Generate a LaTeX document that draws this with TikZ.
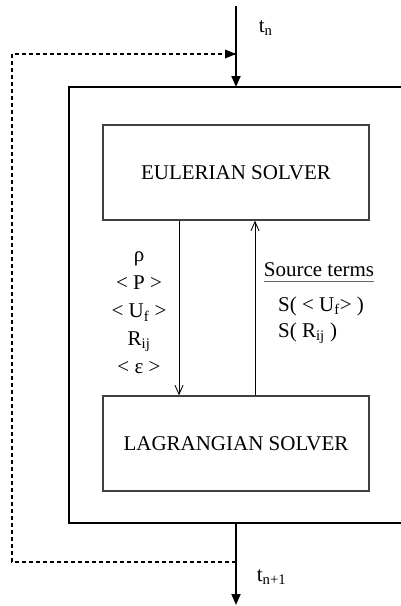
\documentclass[tikz,border=0pt]{standalone}
\usepackage{fontspec}
\setmainfont{Liberation Serif}
\usetikzlibrary{arrows.meta}

\tikzset{
  solver/.style={draw=black!75, line width=1.3pt, minimum width=266pt, minimum height=95pt, inner sep=0pt},
  mainflow/.style={line width=1.8pt, -{Triangle[length=11pt,width=9pt]}},
  feedback/.style={line width=1.6pt, dash pattern=on 4pt off 3pt},
  exchange/.style={line width=0.9pt, -{Straight Barb[length=9pt,width=8pt]}},
  lbl/.style={inner sep=0pt}
}

\begin{document}
\begin{tikzpicture}[x=1pt, y=-1pt, font=\fontsize{21}{28}\selectfont]

    \useasboundingbox (0,0) rectangle (401,606);
    \clip (0,0) rectangle (401,606);

    % Outer loop frame
    \draw[line width=2pt] (69,87) rectangle (410,523);
    \coordinate (top) at (236,87);
    \coordinate (bot) at (236,523);

    % Solvers
    \node[solver] (euler) at (236,172.5) {EULERIAN SOLVER};
    \node[solver] (lagr) at (236,443.5) {LAGRANGIAN SOLVER};

    % Time stepping
    \coordinate (tin) at (236,6);
    \coordinate (tout) at (236,605);
    \coordinate (join) at (236,54);
    \coordinate (split) at (236,562);
    \draw[mainflow] (tin) -- (top) node[lbl, pos=0.27, right=22pt] {t\textsubscript{n}};
    \draw[mainflow] (bot) -- (tout) node[lbl, pos=0.66, right=20pt] {t\textsubscript{n+1}};

    % Feedback to next step
    \draw[feedback] (split) -| (12,54) -- (join);
    \fill ([xshift=-11pt]join) -- ++(0,-4.5) -- (join) -- ++(-11,4.5) -- cycle;

    % Exchange between solvers
    \draw[exchange] ([xshift=-57pt]euler.south) -- ([xshift=-57pt]lagr.north);
    \draw[exchange] ([xshift=19pt]lagr.north) -- ([xshift=19pt]euler.south);

    % Fluid quantities
    \node[lbl, align=center] (fluid) at (139,313) {ρ\\< P >\\< U\textsubscript{f} >\\R\textsubscript{ij}\\< ε >};

    % Source terms
    \node[lbl] (src) at (319,270) {Source terms};
    \draw[black!60, line width=1.2pt] ([yshift=-4pt]src.south west) -- ([yshift=-4pt]src.south east);
    \node[lbl, anchor=west] (su) at (278,306) {S( < U\textsubscript{f}> )};
    \node[lbl, anchor=west] (sr) at (278,333) {S( R\textsubscript{ij} )};

\end{tikzpicture}
\end{document}
